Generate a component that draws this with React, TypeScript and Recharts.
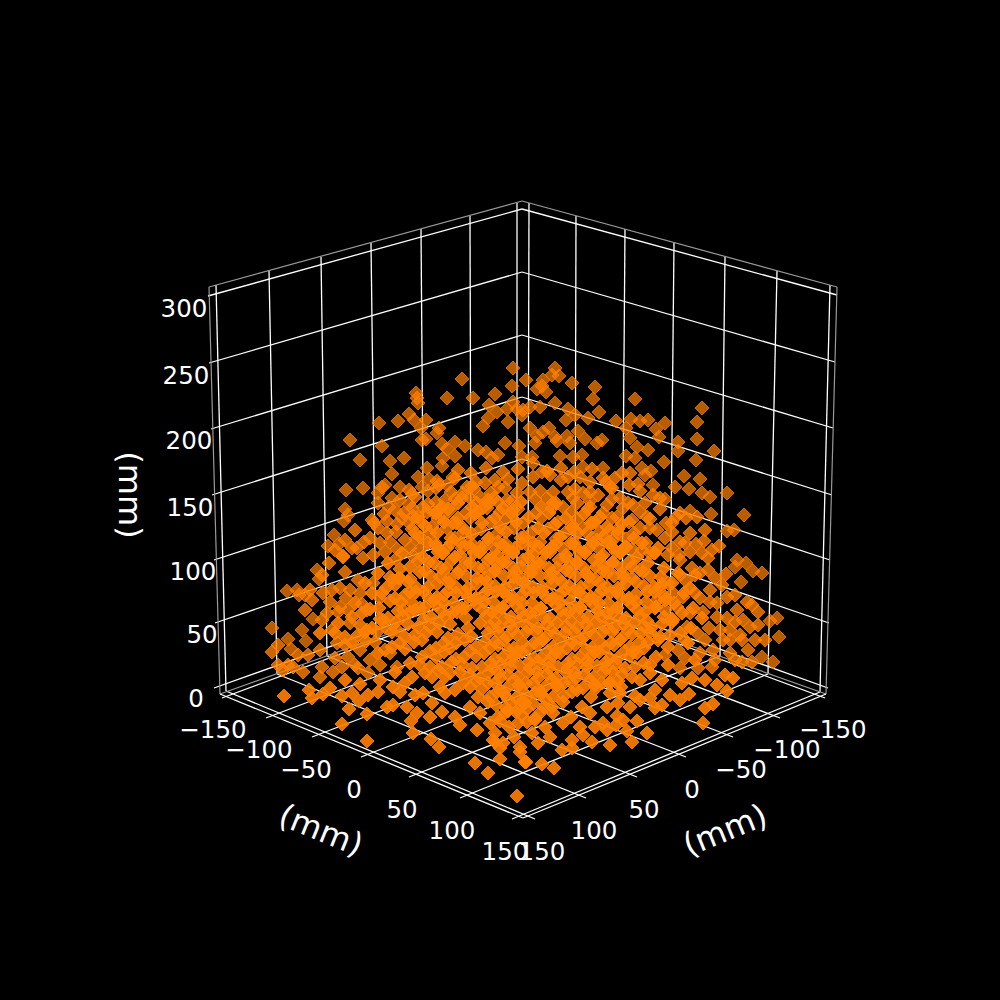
import { ScatterChart, Scatter, XAxis, YAxis, ReferenceLine } from 'recharts';

type Pair = [number, number];

const xGridLines: Pair[][] = [
  [[216, 285], [226, 691]], [[269, 271], [277, 674]], [[321, 257], [327, 656]], [[371, 243], [376, 637]],
  [[421, 229], [424, 619]], [[470, 216], [471, 601]], [[517, 203], [517, 584]],
  [[226, 691], [535, 819]], [[277, 674], [586, 798]], [[327, 656], [637, 777]], [[376, 637], [686, 757]],
  [[424, 619], [733, 737]], [[471, 601], [780, 718]], [[517, 584], [825, 698]],
];
const yGridLines: Pair[][] = [
  [[529, 203], [528, 584]], [[576, 216], [575, 601]], [[625, 229], [622, 619]], [[674, 243], [670, 637]],
  [[725, 257], [720, 656]], [[777, 271], [768, 674]], [[830, 285], [820, 692]],
  [[528, 584], [222, 698]], [[575, 601], [266, 718]], [[622, 619], [312, 737]], [[670, 637], [361, 757]],
  [[720, 656], [409, 777]], [[768, 674], [460, 798]], [[820, 692], [512, 819]],
];
const zGridLines: Pair[][] = [
  [[208, 296], [522, 209]], [[522, 209], [837, 295]],
  [[209, 363], [522, 272]], [[522, 272], [835, 362]],
  [[211, 429], [522, 335]], [[522, 335], [833, 428]],
  [[212, 495], [522, 397]], [[522, 397], [832, 495]],
  [[214, 560], [522, 459]], [[522, 459], [830, 560]],
  [[215, 623], [522, 518]], [[522, 518], [829, 623]],
  [[214, 688], [522, 578]], [[522, 578], [828, 688]],
];
const paneEdges: Pair[][] = [
  [[209, 287], [522, 201]], [[522, 201], [837, 287]], [[209, 287], [220, 694]], [[837, 287], [826, 694]],
  [[220, 694], [522, 586]], [[522, 586], [826, 694]],
];
const axisEdges: Pair[][] = [
  [[220, 694], [523, 818]], [[523, 818], [826, 694]],
];

const zTickLabels = [
  { x: 184, y: 306, label: '300' }, { x: 186, y: 373, label: '250' }, { x: 189, y: 438, label: '200' },
  { x: 190, y: 505, label: '150' }, { x: 193, y: 569, label: '100' }, { x: 202, y: 632, label: '50' },
  { x: 196, y: 696, label: '0' },
];
const leftTickLabels = [
  { x: 213, y: 727, label: '−150' }, { x: 259, y: 747, label: '−100' }, { x: 306, y: 767, label: '−50' },
  { x: 354, y: 787, label: '0' }, { x: 402, y: 807, label: '50' }, { x: 452, y: 828, label: '100' },
  { x: 505, y: 849, label: '150' },
];
const rightTickLabels = [
  { x: 833, y: 727, label: '−150' }, { x: 787, y: 747, label: '−100' }, { x: 741, y: 767, label: '−50' },
  { x: 692, y: 787, label: '0' }, { x: 644, y: 807, label: '50' }, { x: 594, y: 828, label: '100' },
  { x: 542, y: 849, label: '150' },
];
const axisTitles = [
  { x: 321, y: 830, label: '(mm)', angle: 22 },
  { x: 725, y: 830, label: '(mm)', angle: -22 },
  { x: 130, y: 495, label: '(mm)', angle: 90 },
];

const farPoints: Pair[] = [
  [462,379],[447,398],[473,398],[495,394],[416,393],[417,398],[418,403],[489,405],[497,412],[379,423],[398,421],[409,414],
  [414,420],[426,420],[421,428],[439,428],[437,433],[488,418],[483,426],[350,440],[382,446],[422,440],[426,439],[442,444],
  [455,442],[465,446],[447,449],[455,456],[443,458],[442,466],[478,450],[486,452],[492,458],[498,455],[360,460],[390,461],
  [404,458],[392,474],[427,468],[418,477],[429,479],[346,490],[363,488],[385,485],[382,487],[378,493],[400,487],[422,487],
  [428,491],[439,485],[453,477],[447,485],[412,494],[392,498],[378,503],[389,507],[409,504],
  [513,368],[555,368],[552,375],[559,376],[526,380],[543,380],[512,386],[542,386],[537,389],[546,392],[572,383],[595,387],
  [593,399],[635,399],[555,403],[540,407],[513,402],[507,409],[517,409],[523,410],[530,407],[522,415],[508,422],[568,409],
  [575,415],[566,420],[588,418],[599,412],[616,421],[631,419],[640,421],[648,420],[626,428],[665,423],[656,429],[659,437],
  [702,408],[697,422],[697,439],[678,442],[678,451],[714,451],[696,460],[664,462],[530,428],[549,428],[543,432],[537,436],
  [555,437],[557,441],[567,436],[578,431],[585,439],[570,443],[602,440],[597,443],[630,438],[637,447],[648,450],[626,456],
  [635,458],[560,456],[573,457],[582,455],[535,443],[519,446],[505,443],[532,457],[522,457],[533,463],[583,467],[603,468],
  [642,468],[651,471],[645,475],[684,476],[700,479],[675,487],[689,489],[702,493],[710,497],[727,493],[665,499],[653,485],
  [744,515],[734,530],[727,531],[690,511],[711,514],[737,560],[746,563],[735,567],[753,571],[762,573],[741,582],[770,621],
  [777,618],[779,637],[773,662],[762,657],[345,509],[348,515],[344,521],[334,535],[328,546],[339,544],[287,591],[297,590],
  [299,595],[305,595],[317,570],[319,579],[272,628],[302,630],[313,619],[306,641],[288,639],[291,649],
];

const midPoints: Pair[] = [
  [445,500],[423,507],[428,504],[427,512],[384,514],[387,521],[397,524],[404,513],[413,516],[409,523],[387,533],[374,523],
  [364,542],[357,548],[380,543],[373,555],[343,556],[363,558],[397,549],[405,540],[415,533],[410,548],[413,556],[396,559],
  [432,527],[442,507],[450,510],[443,517],[453,523],[463,493],[467,487],[472,486],[462,498],[470,498],[485,483],[495,480],
  [498,487],[480,497],[488,500],[498,502],[478,512],[487,508],[629,485],[638,484],[622,473],[630,473],[615,478],[606,482],
  [610,487],[580,477],[568,477],[550,475],[542,472],[533,477],[553,492],[547,498],[568,492],[583,493],[598,495],[607,505],
  [590,507],[577,503],[563,507],[530,492],[517,493],[507,500],[513,510],[620,498],[633,505],[645,503],[653,495],[647,517],
  [632,520],[617,517],[595,522],[610,530],[587,533],[572,525],[657,530],[640,528],[672,523],[676,517],[686,518],[697,517],
  [690,533],[685,543],[696,544],[704,541],[719,546],[702,553],[708,558],[679,555],[668,555],[655,553],[642,550],[625,547],
  [613,540],[597,540],[692,568],[700,573],[726,574],[715,578],[686,581],[660,588],[668,583],[710,590],[695,593],[683,597],
  [673,593],[657,600],[717,603],[727,597],[747,602],[758,612],[752,605],[737,610],[743,620],[750,627],[740,635],[730,630],
  [723,640],[709,628],[697,633],[687,627],[673,620],[717,617],[727,618],[703,612],[690,613],[677,607],[710,602],[678,650],
  [685,658],[700,653],[713,650],[730,653],[712,667],[752,662],[742,662],[748,650],
  [329,563],[343,557],[278,645],[272,652],[278,665],[283,670],[293,667],[303,672],[320,677],[333,672],[320,650],[308,655],
  [322,667],[337,643],[348,657],[342,667],[355,665],[368,673],[380,665],[385,650],[370,660],[390,653],[397,667],[340,588],
  [323,593],[330,602],[327,613],[340,607],[350,623],[348,610],[367,610],[360,593],[350,590],[380,598],[373,583],[393,580],
  [400,578],[383,620],[367,630],[377,632],[397,630],[403,610],
  // upper body of the cloud
  [458,470],[471,473],[486,468],[503,472],[518,469],[547,471],[561,468],[574,472],[592,469],
  [437,481],[455,478],[476,482],[508,479],[522,483],[561,480],[590,482],[603,478],
  [409,490],[436,488],[451,492],[474,489],[491,493],[505,488],[540,491],[575,489],[590,492],[612,488],[640,491],
  [400,500],[415,497],[436,502],[455,499],[477,503],[494,498],[512,501],[535,499],[553,503],[573,498],[590,501],[612,499],[628,503],[660,498],
  [395,510],[412,508],[433,512],[448,509],[466,513],[483,508],[500,512],[518,509],[536,513],[552,508],[571,512],[588,509],[603,513],[623,508],[640,512],[660,509],[680,513],
  [372,520],[402,518],[421,522],[438,519],[456,523],[470,518],[490,522],[506,519],[523,523],[541,518],[558,522],[577,519],[593,523],[612,518],[629,522],[650,519],[666,523],
  [355,530],[378,528],[396,532],[412,529],[430,533],[447,528],[464,532],[481,529],[498,533],[514,528],[532,532],[548,529],[565,533],[583,528],[600,532],[618,529],[634,533],[650,528],[672,532],[705,530],
  [345,540],[370,538],[390,542],[416,539],[435,543],[455,538],[470,542],[488,539],[505,543],[521,538],[540,542],[556,539],[574,543],[592,538],[610,542],[626,539],[646,543],[665,538],[680,542],
  [335,550],[352,548],[385,552],[420,549],[442,553],[462,548],[479,552],[496,549],[513,553],[530,548],[547,552],[563,549],[580,553],[598,548],[616,552],[632,549],[650,553],[672,548],[690,552],[712,550],
  // left and right wings
  [345,572],[358,580],[332,590],[346,598],[362,604],[338,612],[322,620],[332,630],[345,645],[360,650],[375,642],[358,668],[335,658],[312,600],[322,575],[310,590],[305,610],[298,655],[288,665],
  [680,560],[695,575],[708,570],[722,585],[735,595],[700,598],[680,575],[665,610],[685,640],[705,640],[720,630],[735,622],[730,640],[715,660],[698,668],[680,668],[665,655],[742,640],[755,640],[758,625],[765,640],[735,660],
];

const corePoints: Pair[] = [
  [436,546],[451,543],[470,547],[487,544],[504,546],[522,543],[539,547],[556,544],[575,546],[593,543],[612,547],
  [443,553],[460,555],[480,552],[497,555],[513,552],[533,554],[550,552],[566,555],[584,552],[603,555],[620,553],
  [418,561],[434,563],[452,560],[470,563],[488,560],[506,562],[523,560],[541,563],[559,560],[577,562],[594,560],[612,563],[630,561],
  [400,569],[425,571],[441,568],[459,571],[478,568],[495,570],[513,568],[531,571],[549,568],[566,570],[584,568],[603,571],[622,568],[640,570],
  [390,577],[410,579],[431,576],[449,579],[466,576],[485,578],[504,576],[522,579],[540,576],[558,578],[576,576],[595,579],[614,576],[632,578],[650,576],
  [395,585],[416,587],[437,584],[456,587],[476,584],[495,586],[513,584],[533,587],[552,584],[569,586],[589,584],[607,587],[625,584],[644,586],[662,584],
  [382,593],[405,595],[424,592],[444,595],[465,592],[484,594],[503,592],[522,595],[542,592],[560,594],[579,592],[598,595],[617,592],[636,594],[655,592],
  [390,601],[412,603],[434,600],[454,603],[474,600],[493,602],[512,600],[532,603],[551,600],[570,602],[589,600],[608,603],[627,600],[646,602],[665,600],
  [370,609],[398,611],[420,608],[442,611],[462,608],[483,610],[502,608],[521,611],[541,608],[561,610],[580,608],[598,611],[617,608],[637,610],[655,608],
  [352,617],[380,619],[403,616],[424,619],[445,616],[466,618],[486,616],[505,619],[524,616],[544,618],[563,616],[582,619],[600,616],[620,618],[640,616],[672,619],
  [360,625],[385,627],[408,624],[430,627],[450,624],[468,628],[490,626],[510,624],[528,627],[547,624],[566,626],[586,624],[605,627],[624,624],[644,626],[662,624],
  [335,633],[358,635],[392,632],[415,635],[437,632],[458,634],[471,636],[498,632],[517,635],[536,632],[555,634],[574,632],[594,635],[612,632],[632,634],[650,632],[670,635],
  [366,641],[400,643],[422,640],[444,643],[465,640],[485,642],[504,640],[523,643],[543,640],[562,642],[581,640],[601,643],[620,640],[640,642],[658,640],
  [405,649],[430,651],[450,648],[470,651],[490,648],[509,650],[528,648],[548,651],[567,648],[586,650],[605,648],[625,651],[644,648],
  [436,657],[456,659],[476,656],[495,659],[514,656],[534,658],[553,656],[572,659],[591,656],[610,658],[630,656],
  [420,665],[442,667],[462,664],[482,667],[501,664],[520,666],[540,664],[558,667],[578,664],[597,666],[616,664],[635,667],
  [450,673],[470,675],[489,672],[508,675],[528,672],[547,674],[566,672],[585,675],[604,672],[622,674],
  [476,681],[495,683],[514,680],[533,683],[552,680],[571,682],[590,680],[610,683],
  [482,689],[501,691],[520,688],[540,691],[558,688],[577,690],[596,688],
  [490,697],[508,699],[527,696],[545,699],[564,696],
  [496,705],[515,707],[533,704],[552,707],
  [505,713],[522,715],[541,712],[500,721],[518,723],[535,720],
  // solid middle of the cloud
  [498,565],[515,572],[533,566],[551,573],[569,566],[586,573],[604,566],[622,573],
  [410,592],[429,598],[448,591],[468,597],[488,590],[507,596],[526,590],[546,597],[565,590],[583,596],[602,590],[621,597],
  [415,610],[436,605],[457,612],[477,605],[497,612],[516,605],[536,612],[556,605],[575,612],[594,605],[613,612],[632,605],
  [495,622],[513,630],[532,621],[551,630],[571,621],[590,630],[609,621],[628,630],[647,621],
  [498,645],[517,652],[537,645],[556,652],[575,645],[595,652],[614,645],[633,652],
  [493,668],[511,661],[530,668],[549,661],[568,668],[587,661],[606,668],
  [500,678],[519,685],[538,678],[557,685],[576,678],[595,685],
  [504,694],[522,702],[541,694],[508,711],[527,709],
];

const nearPoints: Pair[] = [
  [440,509],[458,503],[472,507],[489,503],[503,508],[521,502],[541,507],[556,503],
  [418,517],[436,513],[458,518],[475,514],[495,518],[511,513],[529,517],[549,513],[566,518],[584,514],[600,517],
  [425,526],[444,522],[463,528],[482,523],[500,527],[516,522],[538,528],[555,524],[572,528],[591,523],[607,527],[622,524],
  [420,537],[437,533],[451,538],[472,534],[489,538],[506,532],[524,537],[544,533],[560,537],[578,533],[603,537],[618,533],[634,538],
  [428,543],[447,548],[461,543],[480,547],[498,542],[515,548],[533,543],[552,547],[571,543],[589,548],[608,543],[626,547],[642,543],[658,548],
  [402,553],[423,557],[438,552],[455,557],[474,553],[491,558],[509,552],[528,557],[546,553],[566,558],[585,553],[601,557],[620,552],[637,557],[654,553],
  [388,563],[410,567],[429,562],[446,568],[466,563],[484,568],[503,562],[521,567],[538,563],[557,568],[577,563],[596,567],[613,562],[632,567],[648,563],[664,568],
  [378,573],[399,578],[420,572],[440,577],[458,573],[477,578],[494,572],[514,577],[531,573],[551,578],[570,572],[589,577],[607,573],[624,578],[643,572],[661,577],[678,573],
  [365,583],[386,588],[408,582],[428,587],[449,583],[468,588],[487,582],[505,587],[524,583],[543,588],[562,582],[581,587],[600,583],[618,588],[636,582],[654,587],[672,583],[690,588],
  [372,593],[395,598],[416,592],[437,597],[456,593],[476,598],[496,592],[513,597],[534,593],[553,598],[573,592],[591,597],[610,593],[629,598],[647,592],[665,597],[684,593],
  [355,603],[379,608],[401,602],[425,607],[444,603],[465,608],[484,602],[503,607],[522,603],[541,608],[560,602],[580,607],[599,603],[617,608],[636,602],[656,607],[674,603],[693,608],
  [362,613],[388,618],[410,612],[431,617],[452,613],[492,612],[511,617],[530,613],[550,618],[569,612],[588,617],[607,613],[626,618],[645,612],[664,617],[682,613],[702,618],
  [338,623],[372,628],[396,622],[418,627],[439,623],[480,623],[499,627],[518,622],[538,628],[557,623],[577,627],[596,622],[615,628],[634,623],[652,627],[672,622],[691,628],
  [320,633],[345,637],[365,632],[405,637],[426,633],[448,638],[488,633],[507,637],[526,632],[545,638],[565,633],[584,637],[603,632],[622,638],[641,633],[660,637],[680,633],
  [352,643],[392,647],[414,642],[436,648],[456,643],[476,647],[495,642],[514,648],[534,643],[553,647],[572,642],[592,648],[611,643],[630,647],[648,642],[668,647],[688,643],
  [378,653],[422,657],[444,652],[464,657],[484,653],[503,657],[522,652],[541,658],[560,653],[580,657],[599,652],[618,658],[637,653],[656,657],
  [410,663],[430,667],[452,662],[472,668],[491,663],[510,667],[529,662],[549,668],[568,663],[587,667],[606,662],[625,668],[644,663],
  [425,673],[445,677],[460,672],[480,678],[499,673],[518,677],[537,672],[556,678],[575,673],[594,677],[613,672],[632,677],[650,673],
  [405,683],[470,687],[488,683],[507,688],[526,683],[545,687],[564,683],[583,688],[602,683],[621,687],
  [445,693],[478,697],[497,692],[516,698],[535,693],[553,697],[572,692],[591,697],[610,693],
  [432,703],[470,707],[488,702],[506,708],[525,703],[544,707],[563,702],[582,707],
  [480,713],[498,717],[516,712],[535,718],[553,713],[571,717],[590,713],
  [490,723],[509,727],[527,722],[545,727],[563,723],[580,727],
  [495,733],[514,737],[532,733],[550,737],[503,743],[520,747],[538,743],
  [330,688],[345,680],[360,684],[395,672],[380,680],[400,692],[415,695],
  [650,665],[640,680],[655,690],[670,695],[640,700],[680,700],[695,660],[705,680],
  [284,696],[309,690],[312,698],[323,694],[342,696],[352,693],[359,701],[368,695],[378,692],[349,709],[367,714],[342,724],
  [367,741],[387,707],[393,705],[407,707],[417,713],[411,721],[413,733],[431,739],[439,747],[430,717],[442,712],[455,717],
  [460,725],[477,730],[495,742],[393,687],[412,677],[432,677],[438,670],[463,683],[440,687],[455,690],[423,693],[475,763],
  [488,773],[517,796],[493,740],[500,748],[500,759],[520,752],[525,762],[554,768],[542,764],[526,762],[562,750],[572,748],
  [572,740],[583,735],[592,742],[610,745],[632,742],[647,733],[627,731],[637,721],[617,716],[623,720],[616,725],[603,723],
  [607,730],[595,727],[650,698],[662,705],[655,708],[635,696],[620,693],[618,681],[609,683],[607,707],[618,703],[630,707],
  [662,680],[668,665],[692,678],[682,683],[689,694],[713,704],[705,708],[703,723],[717,685],[727,691],[733,678],[725,675],
];

const toLine = (seg: Pair[]) => seg.map(([x, y]) => ({ x, y }));
const toPoints = (list: Pair[]) => list.map(([x, y]) => ({ x, y }));

const FONT = '"DejaVu Sans"';
const ORANGE = '#ff8000';

const Diamond = ({ cx, cy, alpha }: any) => (
  <path
    d={`M${cx} ${cy - 7}L${cx + 7} ${cy}L${cx} ${cy + 7}L${cx - 7} ${cy}Z`}
    fill={ORANGE}
    fillOpacity={alpha}
    stroke={ORANGE}
    strokeOpacity={alpha}
    strokeWidth={1}
  />
);

const TickText = ({ cx, cy, payload }: any) => (
  <text x={cx} y={cy} dy={2} fill="#fff" fontFamily={FONT} fontSize={24.5} textAnchor="middle" dominantBaseline="central">
    {payload.label}
  </text>
);

const TitleText = ({ cx, cy, payload }: any) => (
  <text
    x={cx}
    y={cy}
    fill="#fff"
    fontFamily={FONT}
    fontSize={32}
    textAnchor="middle"
    dominantBaseline="central"
    transform={`rotate(${payload.angle} ${cx} ${cy})`}
  >
    {payload.label}
  </text>
);

export default function App() {
  return (
    <div style={{ position: 'absolute', left: 0, top: 0, width: 1000, height: 1000, background: '#000' }}>
      <ScatterChart width={1000} height={1000} margin={{ top: 0, right: 0, bottom: 0, left: 0 }}>
        <XAxis type="number" dataKey="x" domain={[0, 1000]} hide />
        <YAxis type="number" dataKey="y" domain={[0, 1000]} reversed hide />
        {[...xGridLines, ...yGridLines, ...zGridLines].map((seg, i) => (
          <ReferenceLine key={`g${i}`} segment={toLine(seg)} stroke="#fff" strokeWidth={1.3} ifOverflow="visible" />
        ))}
        {paneEdges.map((seg, i) => (
          <ReferenceLine key={`p${i}`} segment={toLine(seg)} stroke="#999" strokeWidth={1.2} ifOverflow="visible" />
        ))}
        {axisEdges.map((seg, i) => (
          <ReferenceLine key={`a${i}`} segment={toLine(seg)} stroke="#fff" strokeWidth={1.3} ifOverflow="visible" />
        ))}
        <Scatter data={zTickLabels} shape={TickText} isAnimationActive={false} />
        <Scatter data={leftTickLabels} shape={TickText} isAnimationActive={false} />
        <Scatter data={rightTickLabels} shape={TickText} isAnimationActive={false} />
        <Scatter data={axisTitles} shape={TitleText} isAnimationActive={false} />
        <Scatter data={toPoints(farPoints)} shape={(p: any) => <Diamond {...p} alpha={0.72} />} isAnimationActive={false} />
        <Scatter data={toPoints(midPoints)} shape={(p: any) => <Diamond {...p} alpha={0.8} />} isAnimationActive={false} />
        <Scatter data={toPoints(corePoints)} shape={(p: any) => <Diamond {...p} alpha={0.88} />} isAnimationActive={false} />
        <Scatter data={toPoints(nearPoints)} shape={(p: any) => <Diamond {...p} alpha={0.9} />} isAnimationActive={false} />
      </ScatterChart>
    </div>
  );
}
